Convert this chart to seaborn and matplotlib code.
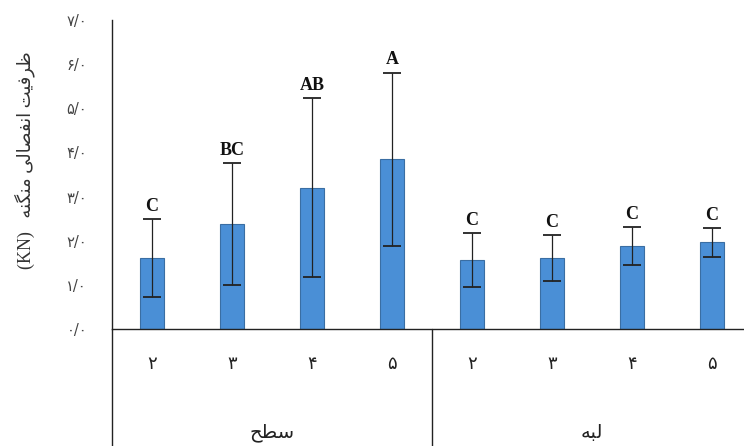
import matplotlib
matplotlib.use('Agg')
import numpy as np
import pandas as pd
import seaborn as sns
from matplotlib import pyplot as plt


groups = ['سطح', 'لبه']
levels = ['۲', '۳', '۴', '۵']
means = [1.61, 2.37, 3.20, 3.85, 1.56, 1.60, 1.87, 1.96]
errors = [0.88, 1.38, 2.03, 1.96, 0.61, 0.52, 0.43, 0.32]
letters = ['C', 'BC', 'AB', 'A', 'C', 'C', 'C', 'C']
y_ticks = [0, 1, 2, 3, 4, 5, 6, 7]
y_tick_labels = ['۰/۰', '۱/۰', '۲/۰', '۳/۰', '۴/۰', '۵/۰', '۶/۰', '۷/۰']
y_title = 'ظرفیت انفصالی منگنه'

# presentation forms: isolated, final, initial, medial
FORMS = {
    'ا': ('\uFE8D', '\uFE8E', None, None),
    'ر': ('\uFEAD', '\uFEAE', None, None),
    'ب': ('\uFE8F', '\uFE90', '\uFE91', '\uFE92'),
    'ت': ('\uFE95', '\uFE96', '\uFE97', '\uFE98'),
    'ح': ('\uFEA1', '\uFEA2', '\uFEA3', '\uFEA4'),
    'س': ('\uFEB1', '\uFEB2', '\uFEB3', '\uFEB4'),
    'ص': ('\uFEB9', '\uFEBA', '\uFEBB', '\uFEBC'),
    'ط': ('\uFEC1', '\uFEC2', '\uFEC3', '\uFEC4'),
    'ظ': ('\uFEC5', '\uFEC6', '\uFEC7', '\uFEC8'),
    'ف': ('\uFED1', '\uFED2', '\uFED3', '\uFED4'),
    'ل': ('\uFEDD', '\uFEDE', '\uFEDF', '\uFEE0'),
    'م': ('\uFEE1', '\uFEE2', '\uFEE3', '\uFEE4'),
    'ن': ('\uFEE5', '\uFEE6', '\uFEE7', '\uFEE8'),
    'ه': ('\uFEE9', '\uFEEA', '\uFEEB', '\uFEEC'),
    'ی': ('\uFBFC', '\uFBFD', '\uFBFE', '\uFBFF'),
    'گ': ('\uFB92', '\uFB93', '\uFB94', '\uFB95'),
}


def shape(text):
    # crude arabic shaping + reversal, matplotlib has no bidi
    out = []
    for i, ch in enumerate(text):
        if ch not in FORMS:
            out.append(ch)
            continue
        prev = text[i - 1] if i > 0 else ''
        nxt = text[i + 1] if i < len(text) - 1 else ''
        j_prev = prev in FORMS and FORMS[prev][2] is not None
        j_next = FORMS[ch][2] is not None and nxt in FORMS
        iso, fin, ini, med = FORMS[ch]
        if j_prev and j_next:
            out.append(med)
        elif j_prev:
            out.append(fin)
        elif j_next:
            out.append(ini)
        else:
            out.append(iso)
    return ''.join(out[::-1])


df = pd.DataFrame({
    'cat': [f'{g}{l}' for g in groups for l in levels],
    'value': means,
})

sns.set_style('white')
plt.rcParams['font.family'] = ['DejaVu Sans']

fig = plt.figure(figsize=(7.44, 4.46), dpi=100)
ax = fig.add_axes([112 / 744, 117 / 446, 640 / 744, 309 / 446])

sns.barplot(data=df, x='cat', y='value', ax=ax, color='#4a8fd6',
            edgecolor='#3a6ea3', linewidth=0.8, width=0.31, errorbar=None,
            saturation=1)
xs = np.arange(len(means))
ax.errorbar(xs, means, yerr=errors, fmt='none', ecolor='#222222',
            elinewidth=0.9, capsize=6.5, capthick=1.3)

for x, m, e, t in zip(xs, means, errors, letters):
    ax.annotate(t, (x, m + e), xytext=(0, 3), textcoords='offset points',
                ha='center', va='bottom', fontsize=13, fontweight='bold',
                family='Liberation Serif', color='#111111')

ax.set_xlim(-0.5, len(means) - 0.5)
ax.set_ylim(0, 7)
ax.set_yticks(y_ticks)
ax.set_yticklabels(y_tick_labels, fontsize=10.5, color='#444444')
ax.set_xticks(xs)
ax.set_xticklabels(levels * 2, fontsize=13, color='#222222')
ax.tick_params(axis='both', length=0)
ax.tick_params(axis='y', pad=18)
ax.tick_params(axis='x', pad=19)
ax.set_xlabel('')
ax.set_ylabel('')

for side in ['top', 'right']:
    ax.spines[side].set_visible(False)
for side in ['left', 'bottom']:
    ax.spines[side].set_color('#222222')
    ax.spines[side].set_linewidth(1.0)

# group box lines below the axis
trans = ax.get_xaxis_transform()
for xv in [-0.5, 3.5]:
    ax.plot([xv, xv], [0, -0.5], transform=trans, color='#222222',
            lw=1.0, clip_on=False)
for i, g in enumerate(groups):
    ax.text(1.5 + 4 * i, -0.335, shape(g), transform=trans, ha='center',
            va='center', fontsize=14, color='#222222')

fig.text(25 / 744, 1 - 160 / 446, '(KN)   ' + shape(y_title), rotation=90,
         ha='center', va='center', fontsize=13, color='#333333',
         family=['Liberation Serif', 'DejaVu Sans'])

fig.savefig('out.png', dpi=100)
